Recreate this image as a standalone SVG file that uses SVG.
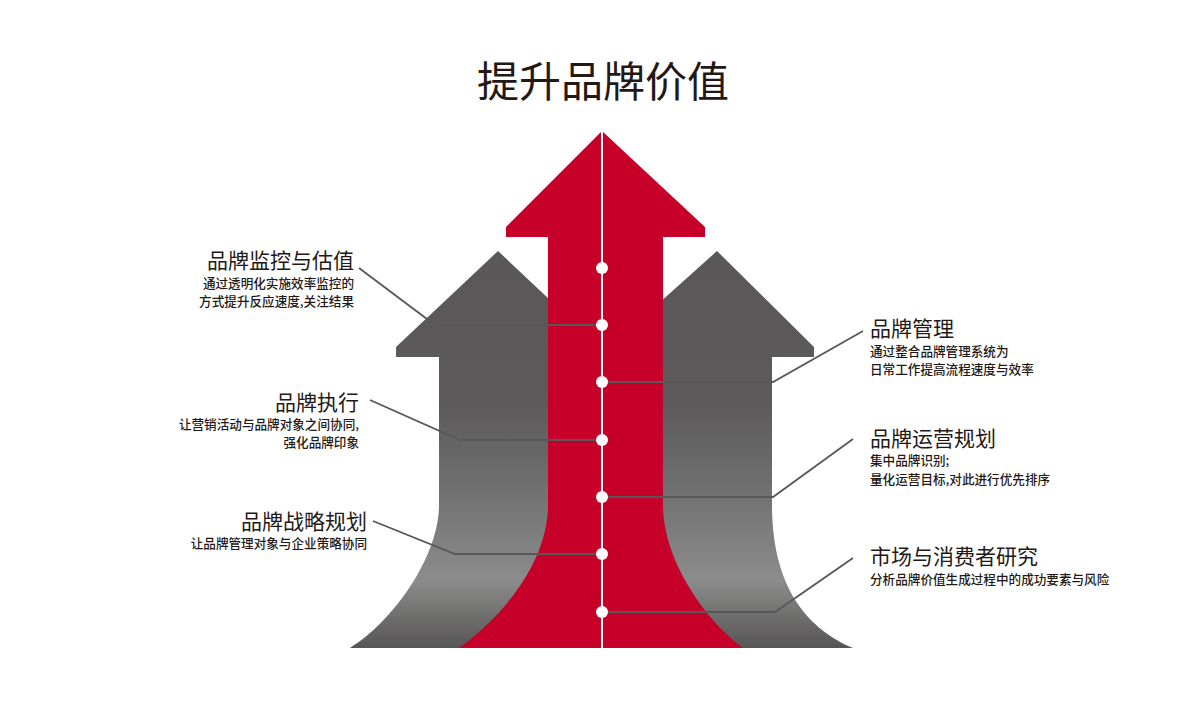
<svg xmlns="http://www.w3.org/2000/svg" width="1200" height="709" viewBox="0 0 1200 709">
<defs>
<linearGradient id="g" gradientUnits="userSpaceOnUse" x1="0" y1="251" x2="0" y2="648">
<stop offset="0" stop-color="#5a5758"/>
<stop offset="0.38" stop-color="#5c5a5a"/>
<stop offset="0.58" stop-color="#6e6e6e"/>
<stop offset="0.83" stop-color="#8b8c8b"/>
<stop offset="1" stop-color="#575555"/>
</linearGradient>
<style>
.t{font-family:"Noto Sans CJK SC","Noto Sans CJK JP",sans-serif;fill:#231815}
.h{font-size:21px}
.s{font-size:12.6px;font-weight:500}
.l{fill:none;stroke:#595757;stroke-width:1.8}
.d{fill:#fff}
</style>
</defs>
<rect width="1200" height="709" fill="#fff"/>
<text class="t" x="603" y="97" font-size="42" text-anchor="middle">提升品牌价值</text>
<g id="arrow-left">
<path fill="url(#g)" d="M498,251 L600,347 L600,648 L350,648 C395,620 439,555 439,505 L439,357 L396,357 L396,347 Z"/>
</g>
<g id="arrow-right">
<path fill="url(#g)" d="M717,251 L814,347 L814,357 L772,357 L772,505 C772,590 810,630 853,648 L610,648 L610,347 Z"/>
</g>
<g id="arrow-center">
<path fill="#c60029" d="M602,131 L705,227 L705,237 L663,237 L663,505 C663,560 705,620 743,648 L459,648 C505,615 548,560 548,505 L548,237 L506,237 L506,227 Z"/>
<line x1="602" y1="131" x2="602" y2="648" stroke="#fff" stroke-width="2"/>
</g>
<g id="connectors">
<polyline class="l" points="359,268 435,325 602,325"/>
<polyline class="l" points="370,400 460,440 602,440"/>
<polyline class="l" points="373,521 455,554 602,554"/>
<polyline class="l" points="863,331 773,382 602,382"/>
<polyline class="l" points="853,439 773,497 602,497"/>
<polyline class="l" points="853,558 775,612 602,612"/>
</g>
<g id="dots">
<circle class="d" cx="602" cy="268" r="6"/>
<circle class="d" cx="602" cy="325" r="6"/>
<circle class="d" cx="602" cy="382" r="6"/>
<circle class="d" cx="602" cy="440" r="6"/>
<circle class="d" cx="602" cy="497" r="6"/>
<circle class="d" cx="602" cy="554" r="6"/>
<circle class="d" cx="602" cy="612" r="6"/>
</g>
<g id="node-monitor" text-anchor="end">
<text class="t h" x="354" y="268">品牌监控与估值</text>
<text class="t s" x="354" y="288">通过透明化实施效率监控的</text>
<text class="t s" x="354" y="306">方式提升反应速度,关注结果</text>
</g>
<g id="node-execution" text-anchor="end">
<text class="t h" x="359" y="410">品牌执行</text>
<text class="t s" x="359" y="429">让营销活动与品牌对象之间协同,</text>
<text class="t s" x="359" y="447">强化品牌印象</text>
</g>
<g id="node-strategy" text-anchor="end">
<text class="t h" x="367" y="529">品牌战略规划</text>
<text class="t s" x="367" y="548">让品牌管理对象与企业策略协同</text>
</g>
<g id="node-management">
<text class="t h" x="870" y="336">品牌管理</text>
<text class="t s" x="870" y="356">通过整合品牌管理系统为</text>
<text class="t s" x="870" y="374">日常工作提高流程速度与效率</text>
</g>
<g id="node-operation">
<text class="t h" x="870" y="446">品牌运营规划</text>
<text class="t s" x="870" y="465">集中品牌识别;</text>
<text class="t s" x="870" y="484">量化运营目标,对此进行优先排序</text>
</g>
<g id="node-research">
<text class="t h" x="870" y="564">市场与消费者研究</text>
<text class="t s" x="870" y="584">分析品牌价值生成过程中的成功要素与风险</text>
</g>
</svg>
